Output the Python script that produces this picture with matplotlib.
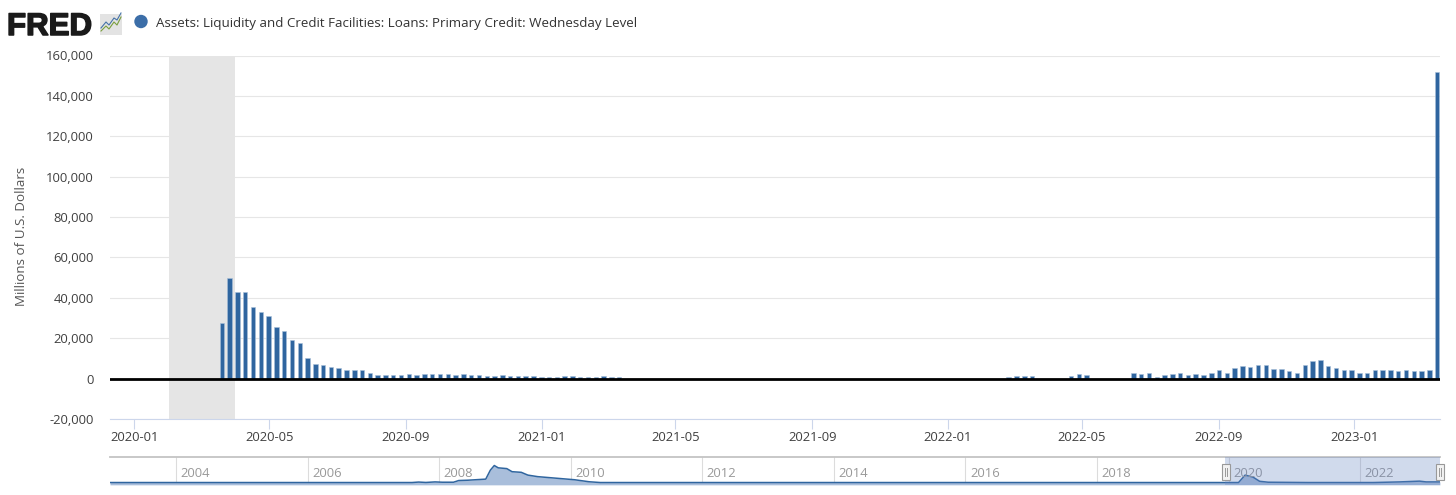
import numpy as np
import pandas as pd
import matplotlib
matplotlib.use("Agg")
import matplotlib.pyplot as plt
import matplotlib.dates as mdates
import matplotlib.patheffects as pe
from matplotlib.patches import Circle, Rectangle

plt.rcParams['font.family'] = ['Open Sans', 'DejaVu Sans']

W, H = 1456, 495

title = "Assets: Liquidity and Credit Facilities: Loans: Primary Credit: Wednesday Level"
y_label = "Millions of U.S. Dollars"
y_ticks = [-20000, 0, 20000, 40000, 60000, 80000, 100000, 120000, 140000, 160000]
nav_years = [2004, 2006, 2008, 2010, 2012, 2014, 2016, 2018, 2020, 2022]

# weekly wednesday levels (millions)
first_week = "2020-01-01"
weekly_values = [
    0, 0, 0, 0, 0, 0, 0, 0, 0, 0, 0,
    27400, 50000, 42800, 42800, 35700, 32900, 31200, 25800, 23500, 19000,
    17400, 10200, 7400, 6900, 5800, 5100, 4100, 4100, 4100, 3000,
    2000, 2000, 2000, 2000, 2500, 2000, 2500, 2500,
    2500, 2500, 2000, 2500, 2000, 2000, 1500, 1500, 2000, 1500,
    1500, 1500, 1500, 800, 800, 800, 1500, 1500, 800, 800,
    800, 1500, 800, 800,
    0, 0, 0, 0, 0, 0, 0, 0, 0, 0, 0, 0, 0, 0, 0, 0, 0,
    0, 0, 0, 0, 0, 0, 0, 0, 0, 0, 0, 0, 0, 0, 0, 0, 0,
    0, 0, 0, 0, 0, 0, 0, 0, 0, 0, 0, 0, 0, 0, 0,
    800, 1500, 1500, 1500,
    0, 0, 0, 0,
    1500, 2500, 2000,
    0, 0, 0, 0, 0,
    3000, 2500, 3000, 800, 2000, 2500, 3000, 2000, 2500, 2000, 3000, 4500, 3000,
    5300, 6400, 5800, 6900, 6900, 4600, 4600, 3600, 3000, 6900, 8600, 9100,
    6400, 5300, 4100, 4100, 3000, 3000, 4100, 4100, 4100, 3600, 4100, 3600,
    3600, 4100, 152000,
]

# recession band
band_start = "2020-02-01"
band_end = "2020-03-31"

# navigator series, coarse
nav_x = [2003.0, 2007.59, 2007.69, 2007.80, 2007.94, 2008.05, 2008.22, 2008.30, 2008.44,
         2008.71, 2008.78, 2008.84, 2008.90, 2009.03, 2009.11, 2009.25, 2009.35, 2009.50,
         2009.78, 2010.06, 2010.28, 2010.45, 2020.15, 2020.25, 2020.37, 2020.47, 2020.60,
         2021.20, 2022.20, 2022.60, 2022.90, 2023.00, 2023.21]
nav_y = [0, 0, 3000, 500, 4000, 2000, 2000, 13000, 15000,
         22000, 80000, 110000, 95000, 90000, 70000, 66000, 48000, 38000,
         28000, 18000, 5000, 0, 0, 48000, 35000, 8000, 2000,
         0, 0, 4000, 9000, 4000, 4000]


def px_axes(left, top, right, bottom, **kw):
    return fig.add_axes([left / W, 1 - bottom / H, (right - left) / W, (bottom - top) / H], **kw)


def year_to_date(y):
    return mdates.date2num(pd.Timestamp(year=2000, month=1, day=1)) + (np.asarray(y) - 2000) * 365.25


fig = plt.figure(figsize=(W / 100, H / 100), dpi=100, facecolor="white")

# main chart
ax = px_axes(110, 55.5, 1440, 419)
dates = pd.date_range(first_week, periods=len(weekly_values), freq="7D")
# bars sit a little right of the ticks in the picture
ax.bar(dates + pd.Timedelta(days=1.5), weekly_values, width=4, color="#2f659f",
       edgecolor="#a9c0da", linewidth=0.4, zorder=3)
ax.axvspan(pd.Timestamp(band_start), pd.Timestamp(band_end), color="#e5e5e5", lw=0, zorder=2)
ax.axhline(0, color="black", lw=2, zorder=4)

ax.set_xlim(pd.Timestamp("2019-12-10"), pd.Timestamp("2023-03-19"))
ax.set_ylim(-20000, 160000)
ax.set_yticks(y_ticks)
ax.set_yticklabels([f"{v:,}" for v in y_ticks], fontsize=9.4, color="#404040")
ax.set_xticks(pd.date_range("2020-01-01", "2023-01-01", freq="4MS"))
ax.xaxis.set_major_formatter(mdates.DateFormatter("%Y-%m"))
ax.tick_params(axis="y", length=0, pad=11.7)
ax.tick_params(axis="x", length=7.5, width=0.8, color="#ccd6eb", labelsize=9.4,
               labelcolor="#404040", pad=1)
ax.grid(axis="y", color="#e6e6e6", lw=0.8, zorder=1)
ax.set_axisbelow(True)
for s in ["top", "left", "right"]:
    ax.spines[s].set_visible(False)
ax.spines["bottom"].set_color("#ccd6eb")
ax.spines["bottom"].set_linewidth(0.8)

# navigator
nav = px_axes(110, 457, 1440, 485)
nav_dates = year_to_date(nav_x)
nav.fill_between(nav_dates, nav_y, -15000, color="#a9bedb", lw=0, zorder=2)
nav.plot(nav_dates, nav_y, color="#2f659f", lw=1.1, zorder=3)
nav.set_xlim(year_to_date(2003.0), mdates.date2num(pd.Timestamp("2023-03-19")))
nav.set_ylim(-16000, 165000)
nav.set_yticks([])
nav.set_xticks([])
for yr in nav_years:
    xx = mdates.date2num(pd.Timestamp(year=yr, month=1, day=1))
    nav.axvline(xx, color="#dcdcdc", lw=0.8, zorder=1)
    nav.text(xx + 25, 0.19, str(yr), transform=nav.get_xaxis_transform(), fontsize=9.4,
             color="#999999", va="bottom", ha="left", zorder=4)
nav.axvspan(pd.Timestamp("2019-12-10"), pd.Timestamp("2023-03-19"), color="#6685c2", alpha=0.3, lw=0, zorder=5)
for s in ["left", "right", "bottom"]:
    nav.spines[s].set_visible(False)
nav.spines["top"].set_color("#c4c4c4")
nav.spines["top"].set_linewidth(1.3)

# pixel overlay for logo, legend and axis title
ov = px_axes(0, 0, W, H)
ov.set_xlim(0, W)
ov.set_ylim(H, 0)
ov.axis("off")
ov.patch.set_alpha(0)

logo = ov.text(7, 35, "FRED", family=["Liberation Sans"], fontweight="bold", fontsize=22.5,
               color="#1a1a1a", va="baseline", ha="left")
logo.set_path_effects([pe.withStroke(linewidth=1.1, foreground="#1a1a1a")])
ov.add_patch(Rectangle((100, 14), 22, 21, facecolor="#e3e3e3", edgecolor="none"))
ov.plot([101, 106, 109, 114, 117, 121], [31, 26, 29, 22, 25, 17], color="#7a9f3e", lw=0.8)
ov.plot([101, 106, 109, 114, 117, 121], [28, 22, 25, 18, 20, 13], color="#4572a7", lw=0.8)

ov.add_patch(Circle((141, 21.5), 6.7, facecolor="#3c6ea8", edgecolor="none"))
ov.text(156, 23, title, fontsize=9.6, color="#333333", va="center", ha="left")
ov.text(22, 236, y_label, fontsize=9.6, color="#555555", rotation=90, va="center", ha="center")

# navigator handles
for hx in [1226, 1440]:
    ov.add_patch(Rectangle((hx - 4, 464), 8, 16, facecolor="#f2f2f2", edgecolor="#999999", lw=0.8))
    ov.plot([hx - 1, hx - 1], [468, 476], color="#999999", lw=0.7)
    ov.plot([hx + 1, hx + 1], [468, 476], color="#999999", lw=0.7)

fig.savefig("out.png", dpi=100)
